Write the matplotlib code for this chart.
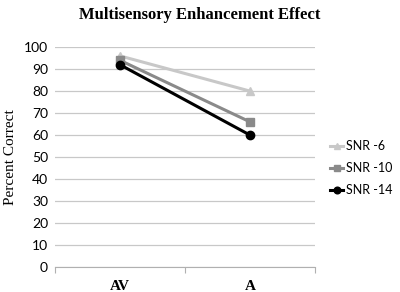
import matplotlib
matplotlib.use("Agg")
import matplotlib.pyplot as plt

# Data
conditions = ["AV", "A"]
snr6 = [96, 80]
snr10 = [94, 66]
snr14 = [92, 60]
series_labels = ["SNR -6", "SNR -10", "SNR -14"]
y_ticks = list(range(0, 101, 10))

fig = plt.figure(figsize=(4.0, 2.92), dpi=100)
ax = fig.add_axes([0.1375, 0.0856, 0.65, 0.753])

x = [0.5, 1.5]
ax.plot(x, snr6, color="#c8c8c8", marker="^", markersize=6, linewidth=2.2, label=series_labels[0])
ax.plot(x, snr10, color="#8a8a8a", marker="s", markersize=6, linewidth=2.2, label=series_labels[1])
ax.plot(x, snr14, color="black", marker="o", markersize=6, linewidth=2.2, label=series_labels[2])

ax.set_xlim(0, 2)
ax.set_ylim(0, 100)
ax.set_yticks(y_ticks)
ax.set_xticks([0, 1, 2])
ax.set_xticklabels(["", "", ""])
for xi, lab in zip(x, conditions):
    ax.text(xi, -9, lab, ha="center", va="center", fontsize=11, fontweight="bold",
            family="Liberation Serif")

ax.grid(axis="y", color="#c8c8c8", linewidth=0.9)
ax.set_axisbelow(True)
for s in ["top", "right", "left"]:
    ax.spines[s].set_visible(False)
ax.spines["bottom"].set_color("#b0b0b0")
ax.tick_params(axis="y", length=0, labelsize=10, pad=5)
ax.tick_params(axis="x", length=4, color="#b0b0b0")
for t in ax.get_yticklabels():
    t.set_family("Lato")

ax.set_ylabel("Percent Correct", family="Liberation Serif", fontsize=11, labelpad=5)
fig.suptitle("Multisensory Enhancement Effect", family="Liberation Serif", fontweight="bold",
             fontsize=12, y=0.975)

leg = ax.legend(loc="center left", bbox_to_anchor=(1.025, 0.45), frameon=False,
                prop={"family": "Lato", "size": 9}, handlelength=1.0,
                handletextpad=0.25, labelspacing=0.8, markerscale=0.8,
                borderaxespad=0.3)

fig.savefig("out.png", dpi=100)
